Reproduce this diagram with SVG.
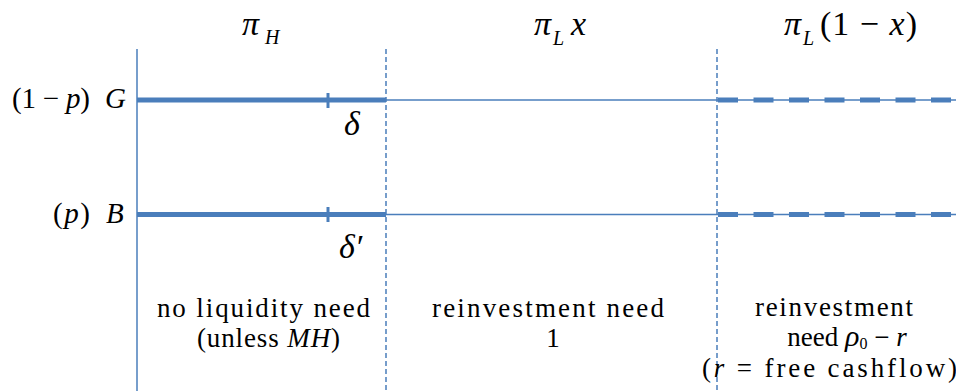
<svg xmlns="http://www.w3.org/2000/svg" width="956" height="391" viewBox="0 0 956 391">
<defs>
<line id="thickseg" x1="137" y1="0" x2="386" y2="0" stroke="#4A7EBB" stroke-width="5"/>
</defs>
<g id="headers" fill="#000">
<text font-family="Liberation Serif" font-style="italic" font-size="34" x="242" y="35">π</text>
<text font-family="Liberation Serif" font-style="italic" font-size="20" x="265" y="44">H</text>
<text font-family="Liberation Serif" font-style="italic" font-size="34" x="534" y="35">π</text>
<text font-family="Liberation Serif" font-style="italic" font-size="20" x="553" y="45">L</text>
<text font-family="Liberation Serif" font-style="italic" font-size="34" x="571" y="35">x</text>
<text font-family="Liberation Serif" font-style="italic" font-size="34" x="784" y="35">π</text>
<text font-family="Liberation Serif" font-style="italic" font-size="20" x="803" y="45">L</text>
<text font-family="Liberation Serif" font-size="34" x="820" y="35" textLength="97">(1 − <tspan font-style="italic">x</tspan>)</text>
</g>
<g id="connectors" fill="none" stroke="#4A7EBB" stroke-width="1.5">
<line x1="137" y1="49" x2="137" y2="391"/>
<line x1="386" y1="49" x2="386" y2="391" stroke-dasharray="5 3"/>
<line x1="717" y1="49" x2="717" y2="391" stroke-dasharray="5 3"/>
</g>
<g id="rowG">
<text font-family="Liberation Serif" font-size="29" x="12" y="108" textLength="78">(1 − <tspan font-style="italic">p</tspan>)</text>
<text font-family="Liberation Serif" font-style="italic" font-size="29" x="105" y="108">G</text>
<g stroke="#4A7EBB" fill="none">
<line x1="137" y1="100" x2="386" y2="100" stroke-width="5"/>
<line x1="328" y1="93" x2="328" y2="108" stroke-width="3"/>
<line x1="386" y1="100" x2="956" y2="100" stroke-width="1.5"/>
<line x1="718" y1="100" x2="956" y2="100" stroke-width="5" stroke-dasharray="20 15.5"/>
</g>
<text font-family="Liberation Serif" font-style="italic" font-size="34" x="344" y="135">δ</text>
</g>
<g id="rowB">
<text font-family="Liberation Serif" font-size="29" x="53" y="223" textLength="37">(<tspan font-style="italic">p</tspan>)</text>
<text font-family="Liberation Serif" font-style="italic" font-size="29" x="106" y="223">B</text>
<g stroke="#4A7EBB" fill="none">
<line x1="137" y1="214.5" x2="386" y2="214.5" stroke-width="5"/>
<line x1="328" y1="207" x2="328" y2="222" stroke-width="3"/>
<line x1="386" y1="214.5" x2="956" y2="214.5" stroke-width="1.5"/>
<line x1="718" y1="214.5" x2="956" y2="214.5" stroke-width="5" stroke-dasharray="20 15.5"/>
</g>
<text font-family="Liberation Serif" font-style="italic" font-size="34" x="339" y="258">δ′</text>
</g>
<g id="col1" text-anchor="middle">
<text font-family="Liberation Serif" font-size="27" x="263.5" y="317" textLength="213">no liquidity need</text>
<text font-family="Liberation Serif" font-size="27" x="268.5" y="347" textLength="143">(unless <tspan font-style="italic">MH</tspan>)</text>
</g>
<g id="col2" text-anchor="middle">
<text font-family="Liberation Serif" font-size="27" x="548" y="317" textLength="232">reinvestment need</text>
<text font-family="Liberation Serif" font-size="27" x="553" y="347">1</text>
</g>
<g id="col3" text-anchor="middle">
<text font-family="Liberation Serif" font-size="27" x="834" y="316" textLength="158">reinvestment</text>
<text font-family="Liberation Serif" font-size="27" x="847" y="346">need <tspan font-style="italic" font-size="30">ρ</tspan><tspan font-size="16" dy="3">0</tspan><tspan dy="-3"> − </tspan><tspan font-style="italic">r</tspan></text>
<text font-family="Liberation Serif" font-size="27" x="829.5" y="377" textLength="255">(<tspan font-style="italic">r</tspan> = free cashflow)</text>
</g>
</svg>
